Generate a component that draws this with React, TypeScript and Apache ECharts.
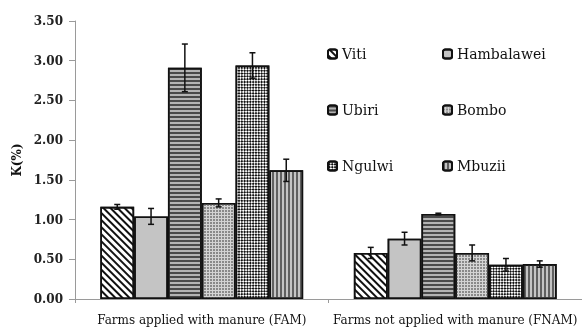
import React, { useEffect, useRef } from "react";
import * as echarts from "echarts";

const categories = ["Farms applied with manure (FAM)", "Farms not applied with manure (FNAM)"];
const sites = ["Viti", "Hambalawei", "Ubiri", "Bombo", "Ngulwi", "Mbuzii"];
const vitiK = [1.16, 0.58];
const vitiErr = [0.03, 0.07];
const hambalaweiK = [1.04, 0.76];
const hambalaweiErr = [0.1, 0.08];
const ubiriK = [2.91, 1.07];
const ubiriErr = [0.3, 0.01];
const bomboK = [1.21, 0.58];
const bomboErr = [0.05, 0.1];
const ngulwiK = [2.94, 0.43];
const ngulwiErr = [0.16, 0.08];
const mbuziiK = [1.62, 0.44];
const mbuziiErr = [0.14, 0.04];
const yTicks = [0, 0.5, 1, 1.5, 2, 2.5, 3, 3.5];

const values = [vitiK, hambalaweiK, ubiriK, bomboK, ngulwiK, mbuziiK];
const errors = [vitiErr, hambalaweiErr, ubiriErr, bomboErr, ngulwiErr, mbuziiErr];

const FONT = "DejaVu Serif";

const styles: any[] = [
  { color: "#ffffff", decal: { symbol: "rect", symbolSize: 1, color: "#111", dashArrayX: [2, 3], dashArrayY: [4, 0], rotation: -Math.PI / 4 } },
  { color: "#c4c4c4", decal: { symbol: "none" } },
  { color: "#b4b4b4", decal: { symbol: "rect", symbolSize: 1, color: "#4a4a4a", dashArrayX: [1.5, 1.5], dashArrayY: [4, 0], rotation: Math.PI / 2 } },
  { color: "#d4d4d4", decal: { symbol: "rect", symbolSize: 1, color: "#8a8a8a", dashArrayX: [2, 1], dashArrayY: [2, 1] } },
  { color: "#ffffff", decal: { symbol: "rect", symbolSize: 1, color: "#111", dashArrayX: [[2, 2], [0, 2, 2, 0]], dashArrayY: [2, 0] } },
  { color: "#c4c4c4", decal: { symbol: "rect", symbolSize: 1, color: "#606060", dashArrayX: [1.5, 1.5], dashArrayY: [4, 0] } },
];

export default function App() {
  const ref = useRef<HTMLDivElement>(null);
  useEffect(() => {
    if (!ref.current) return;
    const chart = echarts.init(ref.current, undefined, { renderer: "svg" });
    const nS = sites.length;
    const errData: any[] = [];
    sites.forEach((_, si) => {
      categories.forEach((_c, ci) => {
        errData.push([ci, si, values[si][ci], errors[si][ci]]);
      });
    });
    const barSeries = sites.map((name, si) => ({
      name,
      type: "bar",
      data: values[si],
      barGap: "0%",
      barCategoryGap: "20%",
      itemStyle: { color: styles[si].color, decal: styles[si].decal, borderColor: "#111", borderWidth: 1.6 },
    }));
    const legendText = { fontFamily: FONT, fontSize: 14, color: "#111", lineHeight: 16 };
    chart.setOption({
      animation: false,
      aria: { enabled: true, decal: { show: true } },
      grid: { left: 75, top: 21, width: 508, height: 278 },
      legend: [
        {
          data: [sites[0], sites[2], sites[4]],
          orient: "vertical",
          left: 322,
          top: 41,
          itemWidth: 9,
          itemHeight: 9,
          itemGap: 40,
          textStyle: legendText,
        },
        {
          data: [sites[1], sites[3], sites[5]],
          orient: "vertical",
          left: 437,
          top: 41,
          itemWidth: 9,
          itemHeight: 9,
          itemGap: 40,
          textStyle: legendText,
        },
      ],
      xAxis: {
        type: "category",
        data: categories,
        axisLine: { lineStyle: { color: "#9a9a9a", width: 1 } },
        axisTick: { show: true, length: 4, lineStyle: { color: "#9a9a9a" } },
        axisLabel: { fontFamily: FONT, fontSize: 12, color: "#111", margin: 15, interval: 0, hideOverlap: false },
      },
      yAxis: {
        type: "value",
        min: yTicks[0],
        max: yTicks[yTicks.length - 1],
        interval: 0.5,
        name: "K(%)",
        nameLocation: "middle",
        nameGap: 52,
        nameTextStyle: { fontFamily: FONT, fontSize: 12, fontWeight: "bold", color: "#111" },
        axisLine: { show: true, lineStyle: { color: "#9a9a9a", width: 1 } },
        axisTick: { show: true, length: 6, lineStyle: { color: "#9a9a9a" } },
        splitLine: { show: false },
        axisLabel: {
          fontFamily: FONT,
          fontSize: 12,
          fontWeight: "bold",
          color: "#222",
          margin: 12,
          formatter: (v: number) => v.toFixed(2),
        },
      },
      series: [
        ...barSeries,
        {
          type: "custom",
          z: 10,
          data: errData,
          encode: { x: 0, y: 2 },
          renderItem: (params: any, api: any) => {
            const ci = api.value(0);
            const si = api.value(1);
            const v = api.value(2);
            const e = api.value(3);
            const w = api.size([1, 0])[0];
            const bw = (w * 0.8) / nS;
            const base = api.coord([ci, v]);
            const x = base[0] - w * 0.4 + (si + 0.5) * bw;
            const yt = api.coord([ci, v + e])[1];
            const yb = api.coord([ci, v - e])[1];
            const cap = 3;
            const st = { stroke: "#111", lineWidth: 1.5 };
            return {
              type: "group",
              children: [
                { type: "line", shape: { x1: x, y1: yt, x2: x, y2: yb }, style: st },
                { type: "line", shape: { x1: x - cap, y1: yt, x2: x + cap, y2: yt }, style: st },
                { type: "line", shape: { x1: x - cap, y1: yb, x2: x + cap, y2: yb }, style: st },
              ],
            };
          },
        },
      ],
    });
    return () => chart.dispose();
  }, []);
  return <div ref={ref} style={{ position: "fixed", left: 0, top: 0, width: 582, height: 329 }} />;
}
